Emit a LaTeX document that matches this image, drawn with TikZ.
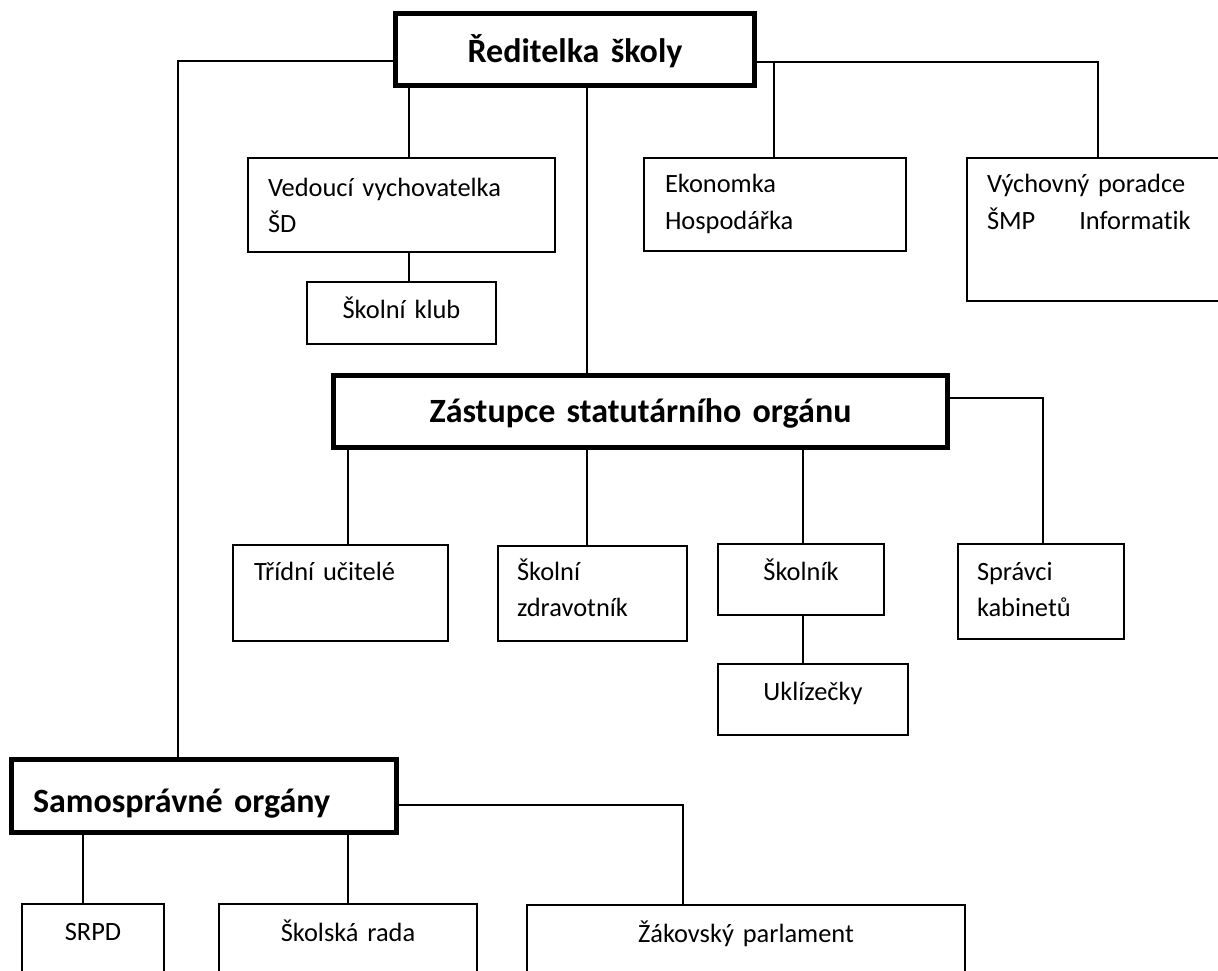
\documentclass[tikz,border=0pt]{standalone}
\usepackage{fontspec}
\setmainfont{Carlito}[Ligatures=NoCommon]

\begin{document}
\begin{tikzpicture}[x=1pt,y=-1pt,line width=1.5pt,
    head box/.style={draw,line width=5pt,inner sep=0pt,anchor=north west,
                     font=\fontsize{34}{40}\selectfont\bfseries},
    sub box/.style={draw,line width=2pt,inner ysep=0pt,anchor=north west,
                    font=\fontsize{26.4}{36.5}\selectfont}]

  \path[fill=white,use as bounding box] (0,0) rectangle (1218,971);

  % top level
  \node[head box,text width=359pt,align=center,text height=49.5pt,text depth=22.5pt] (rd) at (393,11) {Ředitelka školy};

  \node[sub box,inner xsep=20pt,text width=267pt,align=left,text height=38pt,text depth=56pt] (ved) at (247,157) {Vedoucí vychovatelka\\ŠD};
  \node[sub box,inner xsep=0pt,text width=189pt,align=center,text height=36pt,text depth=26pt] (klub) at (306,281) {Školní klub};
  \node[sub box,inner xsep=21pt,text width=220pt,align=left,text height=35pt,text depth=58pt] (eko) at (643,157) {Ekonomka\\Hospodářka};
  \node[sub box,inner xsep=20pt,text width=216pt,align=left,text height=35pt,text depth=108pt] (vych) at (966,157) {Výchovný poradce\\ŠMP\hspace*{44pt}Informatik};

  % second level
  \node[head box,text width=614pt,align=center,text height=46.5pt,text depth=25.5pt] (zast) at (331,373) {Zástupce statutárního orgánu};

  \node[sub box,inner xsep=21pt,text width=173pt,align=left,text height=35pt,text depth=61pt] (tri) at (232,544) {Třídní učitelé};
  \node[sub box,inner xsep=19pt,text width=151pt,align=left,text height=34pt,text depth=61pt] (zdr) at (497,545) {Školní\\zdravotník};
  \node[sub box,inner xsep=0pt,text width=166pt,align=center,text height=36pt,text depth=35pt] (skol) at (717,543) {Školník};
  \node[sub box,inner xsep=0pt,text width=190pt,align=center,text height=36pt,text depth=35pt] (ukl) at (717,663) {Uklízečky};
  \node[sub box,inner xsep=19pt,text width=128pt,align=left,text height=36pt,text depth=59pt] (spr) at (957,543) {Správci\\kabinetů};

  % self-government
  \node[head box,inner xsep=21.5pt,text width=342pt,align=left,text height=52.5pt,text depth=20.5pt] (sam) at (9,757) {Samosprávné orgány};

  \node[sub box,inner xsep=0pt,text width=142pt,align=center,text height=36pt,text depth=49pt] (srpd) at (21,903) {SRPD};
  \node[sub box,inner xsep=0pt,text width=258pt,align=center,text height=37pt,text depth=48pt] (rada) at (218,903) {Školská rada};
  \node[sub box,inner xsep=0pt,text width=438pt,align=center,text height=37pt,text depth=47pt] (parl) at (526,904) {Žákovský parlament};

  % bends and columns of the connectors
  \coordinate (lft) at (178,61);
  \coordinate (rgt) at (1098,62);
  \coordinate (zr) at (1043,398);
  \coordinate (sr) at (683,805);
  \coordinate (xved) at (409,0);
  \coordinate (xmid) at (587,0);
  \coordinate (xeko) at (774,0);
  \coordinate (xtri) at (348,0);
  \coordinate (xskol) at (803,0);
  \coordinate (xsrpd) at (83,0);

  \draw (rd.west |- lft) -- (lft) -- (lft |- sam.north);
  \draw (rd.east |- rgt) -- (rgt) -- (rgt |- vych.north);
  \draw (zast.east |- zr) -- (zr) -- (zr |- spr.north);
  \draw (sam.east |- sr) -- (sr) -- (sr |- parl.north);

  \path[draw]
    (xeko |- rgt) edge (xeko |- eko.north)
    (xved |- rd.south) edge (xved |- ved.north)
    (xved |- ved.south) edge (xved |- klub.north)
    (xmid |- rd.south) edge (xmid |- zast.north)
    (xtri |- zast.south) edge (xtri |- tri.north)
    (xmid |- zast.south) edge (xmid |- zdr.north)
    (xskol |- zast.south) edge (xskol |- skol.north)
    (xskol |- skol.south) edge (xskol |- ukl.north)
    (xsrpd |- sam.south) edge (xsrpd |- srpd.north)
    (xtri |- sam.south) edge (xtri |- rada.north);
\end{tikzpicture}
\end{document}
